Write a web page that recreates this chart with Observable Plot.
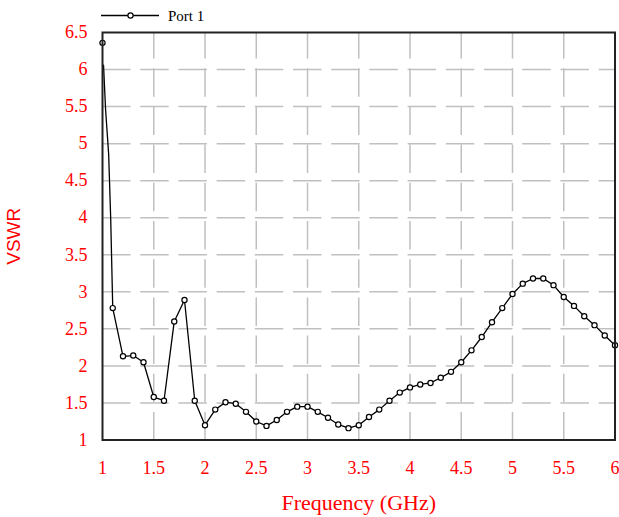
<!DOCTYPE html>
<html>
<head>
<meta charset="utf-8">
<script src="https://cdn.jsdelivr.net/npm/d3@7"></script>
<script src="https://cdn.jsdelivr.net/npm/@observablehq/plot@0.6"></script>
<style>
  body { margin: 0; background: #fff; }
  #wrap { position: relative; width: 619px; height: 517px; overflow: hidden; background: #fff; }
  #legend { position: relative; width: 619px; height: 24px; }
  #legend svg { position: absolute; left: 0; top: 0; }
  #chart svg { display: block; overflow: visible; }
  #chart g[aria-label="x-axis tick label"],
  #chart g[aria-label="y-axis tick label"] { font-family: "Liberation Serif", serif; font-size: 18px; fill: #ff0000; }
  #chart g[aria-label="x-axis label"] { font-family: "Liberation Serif", serif; font-size: 22px; fill: #ff0000; }
  #chart g[aria-label="y-axis label"] { font-family: "Liberation Sans", sans-serif; font-size: 19px; fill: #ff0000; }
</style>
</head>
<body>
<div id="wrap">
  <div id="legend">
    <svg width="619" height="24">
      <line x1="101" x2="159" y1="15.5" y2="15.5" stroke="#000" stroke-width="1.3"></line>
      <circle cx="130.5" cy="15.5" r="2.6" fill="#fff" stroke="#000" stroke-width="1.2"></circle>
      <text x="168" y="21" font-family="Liberation Serif, serif" font-size="15" fill="#000">Port 1</text>
    </svg>
  </div>
  <div id="chart"></div>
</div>
<script>
// Tick values
const xTicks = [1, 1.5, 2, 2.5, 3, 3.5, 4, 4.5, 5, 5.5, 6];
const yTicks = [1, 1.5, 2, 2.5, 3, 3.5, 4, 4.5, 5, 5.5, 6, 6.5];

// Marker samples (Port 1)
const markerFreq = [1.0, 1.1, 1.2, 1.3, 1.4, 1.5, 1.6, 1.7, 1.8, 1.9,
                    2.0, 2.1, 2.2, 2.3, 2.4, 2.5, 2.6, 2.7, 2.8, 2.9,
                    3.0, 3.1, 3.2, 3.3, 3.4, 3.5, 3.6, 3.7, 3.8, 3.9,
                    4.0, 4.1, 4.2, 4.3, 4.4, 4.5, 4.6, 4.7, 4.8, 4.9,
                    5.0, 5.1, 5.2, 5.3, 5.4, 5.5, 5.6, 5.7, 5.8, 5.9, 6.0];
const markerVswr = [6.36, 2.78, 2.13, 2.14, 2.05, 1.58, 1.53, 2.60, 2.89, 1.53,
                    1.20, 1.41, 1.51, 1.49, 1.38, 1.25, 1.19, 1.27, 1.38, 1.45,
                    1.45, 1.38, 1.30, 1.21, 1.16, 1.20, 1.31, 1.41, 1.53, 1.64,
                    1.71, 1.75, 1.77, 1.84, 1.92, 2.05, 2.21, 2.39, 2.59, 2.78,
                    2.97, 3.11, 3.18, 3.18, 3.09, 2.93, 2.81, 2.67, 2.55, 2.41, 2.28];

// Dense sweep points at the steep start of the curve (line only)
const sweepFreq = [1.01, 1.03, 1.06, 1.08];
const sweepVswr = [6.06, 5.46, 4.86, 3.99];

const markers = markerFreq.map((f, i) => ({f, v: markerVswr[i]}));
const lineData = sweepFreq.map((f, i) => ({f, v: sweepVswr[i]})).concat(markers.slice(1));

const gridStyle = {stroke: "#c0c0c0", strokeOpacity: 1, strokeWidth: 1.5, strokeDasharray: "28.5,9.7"};

const chart = Plot.plot({
  width: 619,
  height: 493,
  marginTop: 8,
  marginBottom: 77.5,
  marginLeft: 102,
  marginRight: 4.5,
  x: {domain: [1, 6]},
  y: {domain: [1, 6.5]},
  marks: [
    Plot.gridY({ticks: yTicks.slice(1, -1), ...gridStyle}),
    Plot.gridX({ticks: xTicks.slice(1, -1), ...gridStyle, strokeDashoffset: 2}),
    Plot.axisX({ticks: xTicks, tickFormat: d => String(d), tickSize: 0, tickPadding: 21,
                label: "Frequency (GHz)", labelAnchor: "center", labelOffset: 70, labelArrow: "none"}),
    Plot.axisY({ticks: yTicks, tickFormat: d => String(d), tickSize: 0, tickPadding: 15,
                label: "VSWR", labelAnchor: "center", labelOffset: 96, labelArrow: "none"}),
    Plot.line(lineData, {x: "f", y: "v", stroke: "#000", strokeWidth: 1.3}),
    Plot.dot(markers, {x: "f", y: "v", r: 2.6, fill: "#fff", stroke: "#000", strokeWidth: 1.2}),
    Plot.frame({stroke: "#222", strokeWidth: 2})
  ]
});
document.getElementById("chart").appendChild(chart);
</script>
</body>
</html>
